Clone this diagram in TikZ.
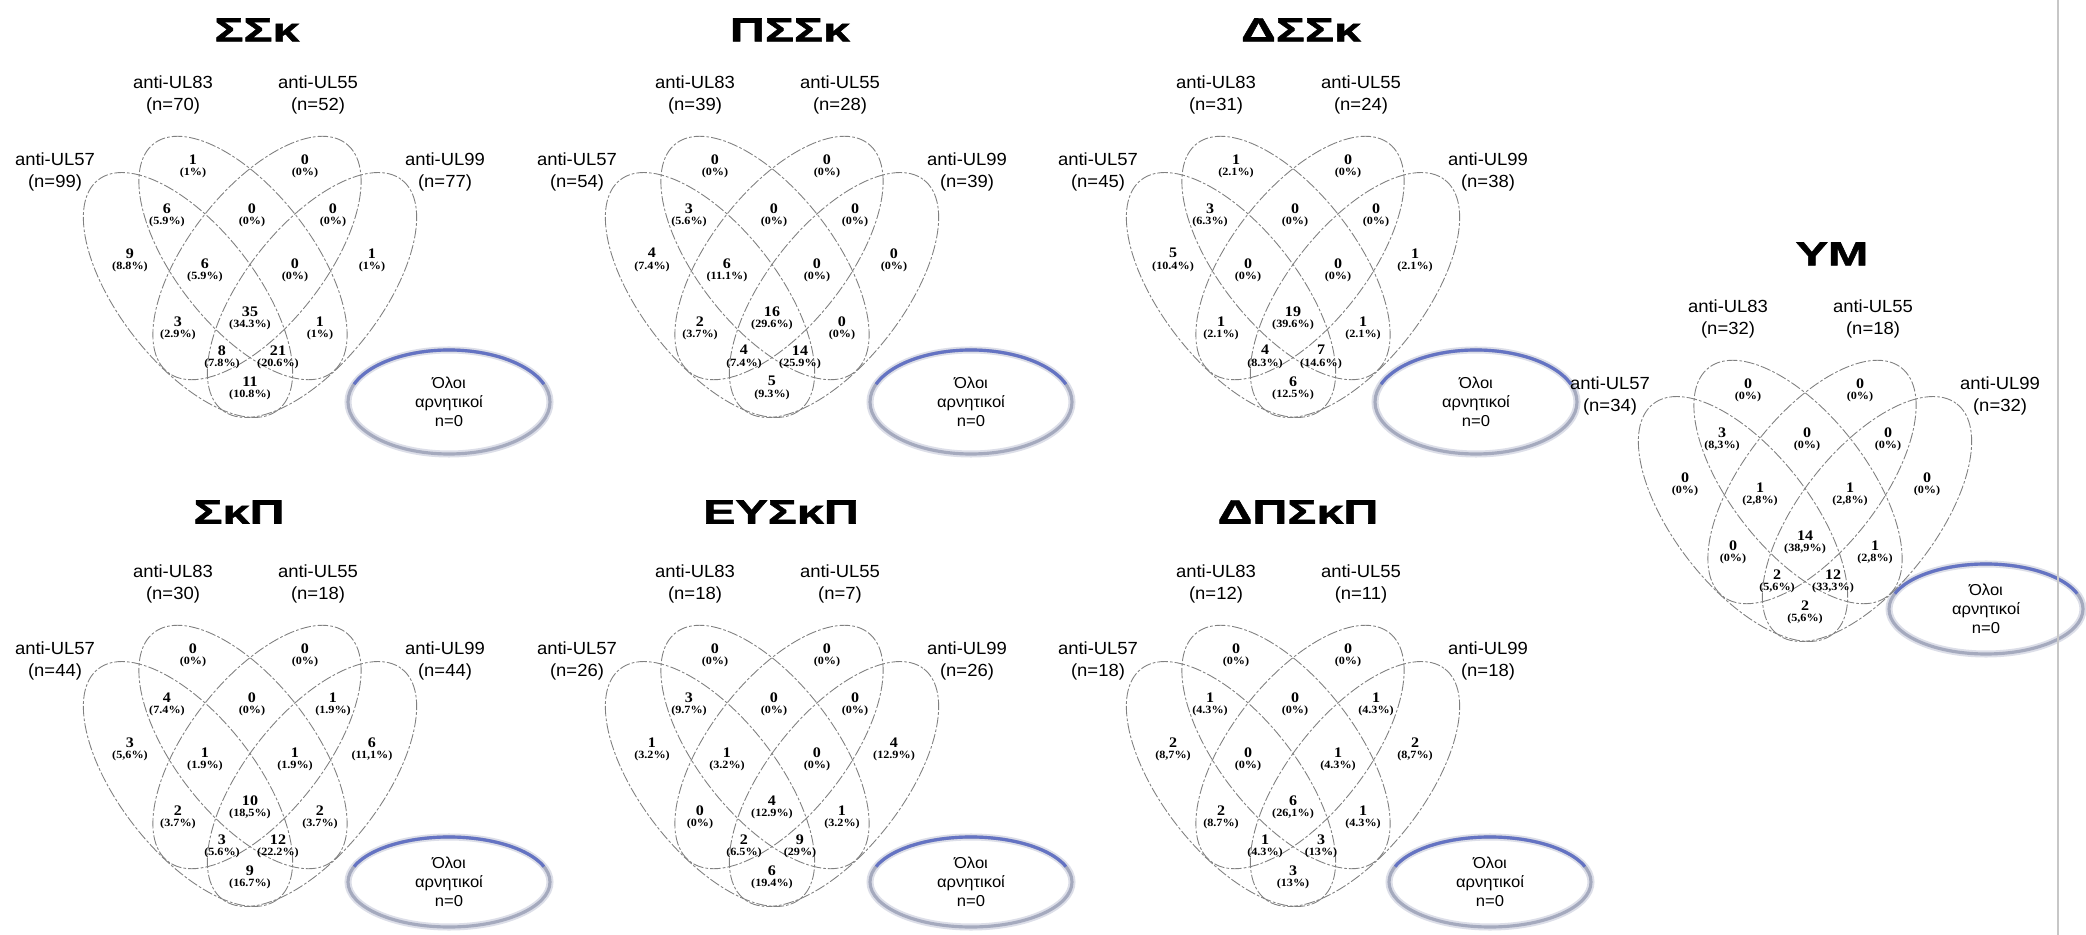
\documentclass[tikz,border=0pt]{standalone}
\usepackage{fontspec}
\setmainfont[FakeStretch=1.05]{Liberation Sans}
\newfontfamily\numfont[FakeStretch=1.1]{Liberation Serif}
\newfontfamily\ttlfont[FakeStretch=1.45,FakeBold=1.6]{Liberation Sans}
\newcommand{\pctsz}{\fontsize{6.3}{6.3}\selectfont}
\newcommand{\vennbody}[6]{%
  \draw[vline, rotate around={-52:(188,295)}] (188,295) ellipse [x radius=146, y radius=68];
  \draw[vline, rotate around={-52:(243,258)}] (243,258) ellipse [x radius=145, y radius=68];
  \draw[vline, rotate around={52:(257,258)}] (257,258) ellipse [x radius=145, y radius=68];
  \draw[vline, rotate around={52:(312,295)}] (312,295) ellipse [x radius=146, y radius=68];
  \node[setlab] (#1-l83) at (173,95) {anti-UL83\\(n=#2)};
  \node[setlab] (#1-l55) at (318,95) {anti-UL55\\(n=#3)};
  \node[setlab] (#1-l57) at (55,172) {anti-UL57\\(n=#4)};
  \node[setlab] (#1-l99) at (445,172) {anti-UL99\\(n=#5)};
  \coordinate (#1-pB) at (193,166);
  \coordinate (#1-pC) at (305,166);
  \coordinate (#1-pAB) at (167,215);
  \coordinate (#1-pBC) at (252,215);
  \coordinate (#1-pCD) at (333,215);
  \coordinate (#1-pA) at (130,260);
  \coordinate (#1-pABC) at (205,270);
  \coordinate (#1-pBCD) at (295,270);
  \coordinate (#1-pD) at (372,260);
  \coordinate (#1-pAC) at (178,328);
  \coordinate (#1-pABCD) at (250,318);
  \coordinate (#1-pBD) at (320,328);
  \coordinate (#1-pACD) at (222,357);
  \coordinate (#1-pABD) at (278,357);
  \coordinate (#1-pAD) at (250,388);
  \foreach \rid/\rn/\rp in {#6}{\node[reg] (#1-\rid) at (#1-p\rid) {\rn\\{\pctsz(\rp\%)}};}
}
\newcommand{\negell}[5]{%
  \draw[negglow] (#2,#3) ellipse [x radius=#4, y radius=#5];
  \draw[negline] (#2,#3) ellipse [x radius=#4, y radius=#5];
  \draw[negtop] (#2,#3) ++(200:#4 and #5) arc[start angle=200, end angle=340, x radius=#4, y radius=#5];
  \node[negtxt] (#1-neg) at (#2,#3) {Όλοι\\αρνητικοί\\n=0};
}
\begin{document}
\begin{tikzpicture}[x=0.02cm,y=-0.02cm,
  vline/.style={draw=black!50, line width=0.5pt, dash pattern=on 6pt off 1.2pt on 1.5pt off 1.2pt},
  setlab/.style={font=\fontsize{10}{13}\selectfont, align=center, inner sep=0pt},
  reg/.style={font=\numfont\bfseries\fontsize{8.3}{6.4}\selectfont, align=center, inner sep=0pt},
  ttl/.style={font=\ttlfont\bfseries\fontsize{19}{21}\selectfont, inner sep=0pt},
  negglow/.style={draw={rgb,255:red,220;green,222;blue,232}, line width=4pt},
  negline/.style={draw={rgb,255:red,165;green,170;blue,190}, line width=1.8pt},
  negtop/.style={draw={rgb,255:red,100;green,115;blue,195}, line width=1.8pt},
  negtxt/.style={font=\fontsize{9}{11}\selectfont, align=center, inner sep=0pt},
  sepline/.style={draw=black!22, line width=0.6pt}
]
\useasboundingbox (0,0) rectangle (2086,935);
\fill[white] (0,0) rectangle (2086,935);

% "all negative" ellipses (drawn first so that labels lie above them)
\negell{v1}{449}{402}{101}{52}
\negell{v2}{971}{402}{101}{52}
\negell{v3}{1476}{402}{101}{52}
\negell{v4}{449}{882}{101}{45}
\negell{v5}{971}{882}{101}{45}
\negell{v6}{1490}{882}{101}{45}
\negell{v7}{1986}{609}{97}{45}

% titles
\node[ttl] (t1) at (257,30) {ΣΣκ};
\node[ttl] (t2) at (790,30) {ΠΣΣκ};
\node[ttl] (t3) at (1301,30) {ΔΣΣκ};
\node[ttl] (t4) at (239,512) {ΣκΠ};
\node[ttl] (t5) at (781,512) {ΕΥΣκΠ};
\node[ttl] (t6) at (1298,512) {ΔΠΣκΠ};
\node[ttl] (t7) at (1832,254) {ΥΜ};

\begin{scope}[shift={(0,0)}]
\vennbody{v1}{70}{52}{99}{77}{B/1/1, C/0/0, AB/6/5.9, BC/0/0, CD/0/0, A/9/8.8, ABC/6/5.9, BCD/0/0, D/1/1, AC/3/2.9, ABCD/35/34.3, BD/1/1, ACD/8/7.8, ABD/21/20.6, AD/11/10.8}
\end{scope}
\begin{scope}[shift={(522,0)}]
\vennbody{v2}{39}{28}{54}{39}{B/0/0, C/0/0, AB/3/5.6, BC/0/0, CD/0/0, A/4/7.4, ABC/6/11.1, BCD/0/0, D/0/0, AC/2/3.7, ABCD/16/29.6, BD/0/0, ACD/4/7.4, ABD/14/25.9, AD/5/9.3}
\end{scope}
\begin{scope}[shift={(1043,0)}]
\vennbody{v3}{31}{24}{45}{38}{B/1/2.1, C/0/0, AB/3/6.3, BC/0/0, CD/0/0, A/5/10.4, ABC/0/0, BCD/0/0, D/1/2.1, AC/1/2.1, ABCD/19/39.6, BD/1/2.1, ACD/4/8.3, ABD/7/14.6, AD/6/12.5}
\end{scope}
\begin{scope}[shift={(0,489)}]
\vennbody{v4}{30}{18}{44}{44}{B/0/0, C/0/0, AB/4/7.4, BC/0/0, CD/1/1.9, A/3/{5,6}, ABC/1/1.9, BCD/1/1.9, D/6/{11,1}, AC/2/3.7, ABCD/10/{18,5}, BD/2/3.7, ACD/3/5.6, ABD/12/22.2, AD/9/16.7}
\end{scope}
\begin{scope}[shift={(522,489)}]
\vennbody{v5}{18}{7}{26}{26}{B/0/0, C/0/0, AB/3/9.7, BC/0/0, CD/0/0, A/1/3.2, ABC/1/3.2, BCD/0/0, D/4/12.9, AC/0/0, ABCD/4/12.9, BD/1/3.2, ACD/2/6.5, ABD/9/29, AD/6/19.4}
\end{scope}
\begin{scope}[shift={(1043,489)}]
\vennbody{v6}{12}{11}{18}{18}{B/0/0, C/0/0, AB/1/4.3, BC/0/0, CD/1/4.3, A/2/{8,7}, ABC/0/0, BCD/1/4.3, D/2/{8,7}, AC/2/8.7, ABCD/6/{26,1}, BD/1/4.3, ACD/1/4.3, ABD/3/13, AD/3/13}
\end{scope}
\begin{scope}[shift={(1555,224)}]
\vennbody{v7}{32}{18}{34}{32}{B/0/0, C/0/0, AB/3/{8,3}, BC/0/0, CD/0/0, A/0/0, ABC/1/{2,8}, BCD/1/{2,8}, D/0/0, AC/0/0, ABCD/14/{38,9}, BD/1/{2,8}, ACD/2/{5,6}, ABD/12/{33,3}, AD/2/{5,6}}
\end{scope}

% separator line at right
\coordinate (sepT) at (2058,0);
\coordinate (sepB) at (2058,935);
\draw[sepline] (sepT) -- (sepB);
\end{tikzpicture}
\end{document}
